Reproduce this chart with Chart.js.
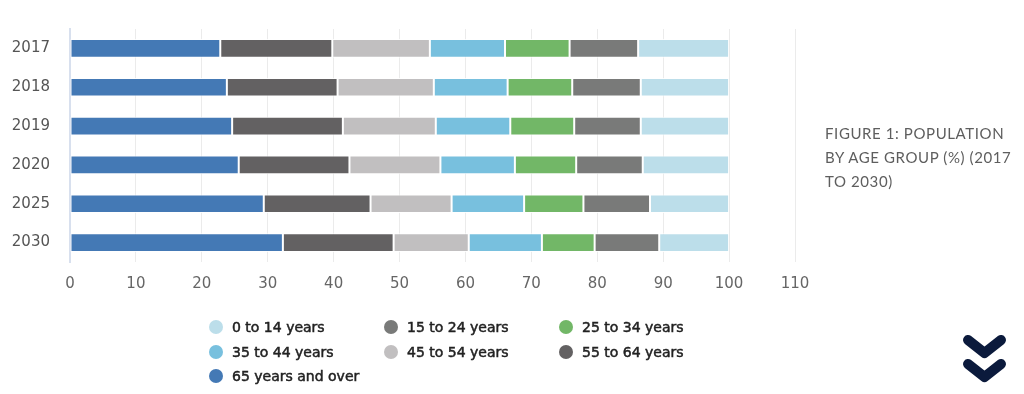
<!DOCTYPE html>
<html>
<head>
<meta charset="utf-8">
<script src="https://cdn.jsdelivr.net/npm/chart.js@4"></script>
<style>
  body { margin: 0; background: #fff; }
  #wrap { position: relative; width: 1024px; height: 394px; }
  #myChart { position: absolute; left: 0; top: 0; }
  #caption {
    position: absolute; left: 825px; top: 121px; width: 195px;
    font-family: Lato, sans-serif; font-size: 15px; line-height: 24px;
    letter-spacing: 0.6px; color: #5e5e5e; text-transform: uppercase;
    white-space: nowrap;
  }
  #legend { position: absolute; left: 209px; top: 315px; }
  .item {
    position: absolute; white-space: nowrap;
    font-family: "DejaVu Sans", sans-serif; font-size: 14px;
    color: #222; line-height: 24px; -webkit-text-stroke: 0.5px #222;
  }
  .dot {
    display: inline-block; width: 14px; height: 14px; border-radius: 50%;
    vertical-align: -2px; margin-right: 9px;
  }
  #chev { position: absolute; left: 958px; top: 330px; }
</style>
</head>
<body>
<div id="wrap">
  <canvas id="myChart" width="1024" height="394"></canvas>
  <div id="caption">Figure 1: Population<br>by age group (%) (2017<br>to 2030)</div>
  <div id="legend"></div>
  <svg id="chev" width="52" height="60" viewBox="958 330 52 60">
    <polyline points="968,340 984.5,353 1001,340" fill="none" stroke="#0b1a3c" stroke-width="10" stroke-linecap="round" stroke-linejoin="round"/>
    <polyline points="968,364 984.5,377 1001,364" fill="none" stroke="#0b1a3c" stroke-width="10" stroke-linecap="round" stroke-linejoin="round"/>
  </svg>
</div>
<script>
// population by age group, % per year
const years = ['2017', '2018', '2019', '2020', '2025', '2030'];

const age65plus = [22.8, 23.8, 24.6, 25.6, 29.4, 32.3];
const age55to64 = [17.0, 16.8, 16.8, 16.8, 16.2, 16.8];
const age45to54 = [14.8, 14.6, 14.1, 13.8, 12.3, 11.4];
const age35to44 = [11.4, 11.2, 11.3, 11.3, 11.0, 11.1];
const age25to34 = [9.8, 9.8, 9.7, 9.3, 9.0, 8.0];
const age15to24 = [10.4, 10.4, 10.1, 10.1, 10.1, 9.8];
const age0to14 = [13.8, 13.4, 13.4, 13.1, 12.0, 10.6];

const xTicks = [0, 10, 20, 30, 40, 50, 60, 70, 80, 90, 100, 110];

document.addEventListener('DOMContentLoaded', function() {
    // make sure the canvas gets the real font, not a fallback
    document.fonts.load('15px "DejaVu Sans"').then(drawChart, drawChart);
});

function drawChart() {
    const ctx = document.getElementById('myChart').getContext('2d');
    const tickFont = { family: '"DejaVu Sans", sans-serif', size: 15 };

    // stacking order is left to right, legend is shown reversed
    const series = [
        { label: '65 years and over', data: age65plus, color: '#4479b5' },
        { label: '55 to 64 years', data: age55to64, color: '#636162' },
        { label: '45 to 54 years', data: age45to54, color: '#c1bfc0' },
        { label: '35 to 44 years', data: age35to44, color: '#78c0de' },
        { label: '25 to 34 years', data: age25to34, color: '#72b767' },
        { label: '15 to 24 years', data: age15to24, color: '#797a79' },
        { label: '0 to 14 years', data: age0to14, color: '#bcdeea' }
    ];

    const myChart = new Chart(ctx, {
        type: 'bar',
        data: {
            labels: years,
            datasets: series.map(s => ({
                label: s.label,
                data: s.data,
                backgroundColor: s.color,
                borderColor: 'rgba(255,255,255,0.85)',
                borderWidth: 1,
                borderSkipped: false,
                barPercentage: 0.48,
                categoryPercentage: 1
            }))
        },
        options: {
            indexAxis: 'y',
            responsive: false,
            animation: false,
            layout: { padding: { top: 25, right: 229, bottom: 102, left: 0 } },
            plugins: {
                legend: { display: false },
                tooltip: { enabled: false }
            },
            scales: {
                x: {
                    stacked: true,
                    min: 0,
                    max: 110,
                    afterBuildTicks: function(scale) {
                        scale.ticks = xTicks.map(v => ({ value: v }));
                    },
                    afterFit: function(scale) { scale.height = 30; },
                    grid: { color: '#ebebeb', drawTicks: false },
                    border: { display: false },
                    ticks: {
                        padding: 13,
                        color: '#666',
                        font: tickFont
                    }
                },
                y: {
                    stacked: true,
                    afterFit: function(scale) { scale.width = 70; },
                    grid: { display: false, drawTicks: false },
                    border: { display: true, color: '#d8e0ee', width: 2 },
                    ticks: {
                        padding: 20,
                        color: '#555',
                        font: tickFont
                    }
                }
            }
        }
    });

    // html legend in three columns, built from the chart's datasets
    const legend = document.getElementById('legend');
    const items = myChart.data.datasets.slice().reverse();
    items.forEach(function(ds, i) {
        const el = document.createElement('div');
        el.className = 'item';
        el.style.left = (i % 3) * 175 + 'px';
        el.style.top = Math.floor(i / 3) * 24.7 + 'px';
        el.innerHTML = '<span class="dot" style="background:' + ds.backgroundColor + '"></span>' + ds.label;
        legend.appendChild(el);
    });
}
</script>
</body>
</html>
